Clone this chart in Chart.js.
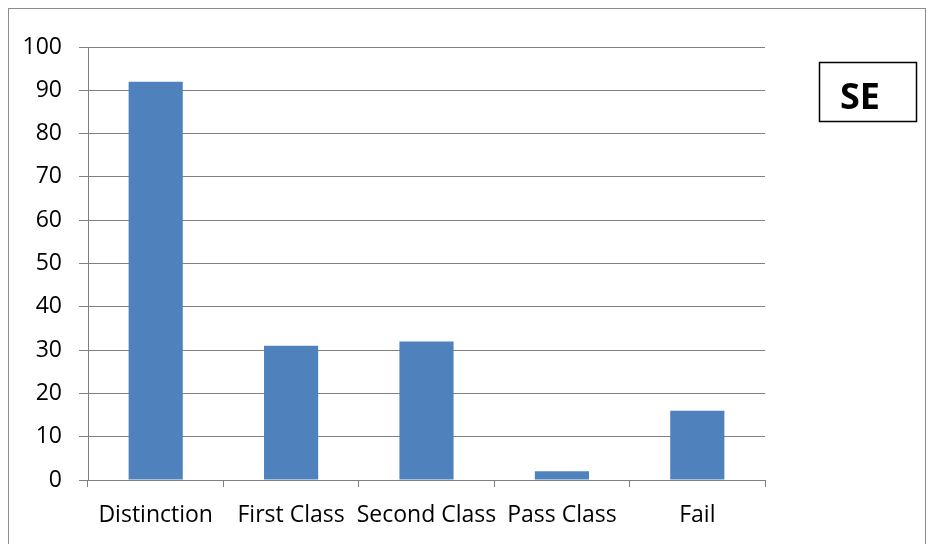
<!DOCTYPE html>
<html>
<head>
<meta charset="utf-8">
<script src="https://cdn.jsdelivr.net/npm/chart.js@4"></script>
<style>
  html, body { margin: 0; padding: 0; background: #fff; }
  #wrap { position: relative; width: 928px; height: 544px; }
</style>
</head>
<body>
<div id="wrap"><canvas id="grades" width="928" height="544"></canvas></div>
<script>
const categories = ['Distinction', 'First Class', 'Second Class', 'Pass Class', 'Fail'];
const seValues = [92, 31, 32, 2, 16];
const legendText = 'SE';

// outer frame + the little "SE" box on the right
const framePlugin = {
  id: 'frame',
  beforeDraw(chart) {
    const ctx = chart.ctx;
    ctx.save();
    ctx.fillStyle = '#fff';
    ctx.fillRect(0, 0, chart.width, chart.height);
    ctx.strokeStyle = '#8c8c8c';
    ctx.lineWidth = 1;
    ctx.strokeRect(8.5, 8.5, 917, 545);
    ctx.restore();
  },
  afterDraw(chart) {
    const ctx = chart.ctx;
    ctx.save();
    ctx.strokeStyle = '#000';
    ctx.lineWidth = 1.5;
    ctx.strokeRect(819.5, 62.5, 97, 59);
    ctx.fillStyle = '#000';
    ctx.font = 'bold 36px "Open Sans"';
    ctx.textAlign = 'center';
    ctx.textBaseline = 'middle';
    ctx.fillText(legendText, 860, 99);
    ctx.restore();
  }
};

const gradeChart = new Chart(document.getElementById('grades').getContext('2d'), {
  type: 'bar',
  plugins: [framePlugin],
  data: {
    labels: categories,
    datasets: [
      {
        label: legendText,
        data: seValues,
        backgroundColor: '#4f81bd',
        borderWidth: 0,
        barPercentage: 0.4,
        categoryPercentage: 1.0
      }
    ]
  },
  options: {
    responsive: false,
    animation: false,
    layout: {
      padding: { left: 8, top: 47, right: 163, bottom: 0 }
    },
    scales: {
      x: {
        grid: {
          offset: true,
          drawOnChartArea: false,
          color: '#808080',
          tickLength: 7
        },
        border: { color: '#808080' },
        ticks: {
          autoSkip: false,
          color: '#000',
          font: { family: 'Open Sans', size: 23 },
          padding: 15,
          maxRotation: 0
        },
        afterFit(scale) { scale.height = 64; }
      },
      y: {
        min: 0,
        max: 100,
        ticks: {
          stepSize: 10,
          color: '#000',
          font: { family: 'Open Sans', size: 23 },
          padding: 17
        },
        grid: {
          color: '#808080',
          tickLength: 9
        },
        border: { color: '#808080' },
        afterFit(scale) { scale.width = 80; }
      }
    },
    plugins: {
      legend: { display: false },
      tooltip: { enabled: false }
    }
  }
});
</script>
</body>
</html>
